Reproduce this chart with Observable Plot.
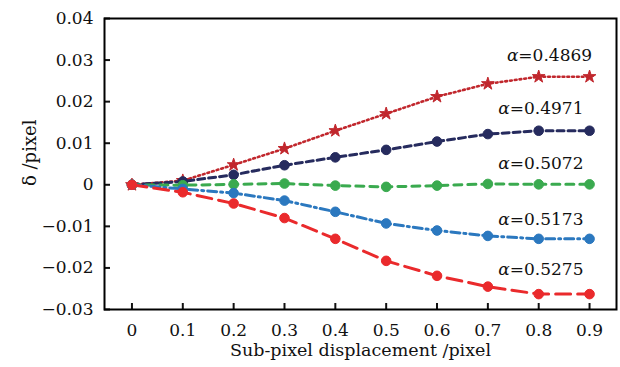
<!DOCTYPE html>
<html>
<head>
<meta charset="utf-8">
<script src="https://cdn.jsdelivr.net/npm/d3@7"></script>
<script src="https://cdn.jsdelivr.net/npm/@observablehq/plot@0.6"></script>
<style>
  html, body { margin: 0; padding: 0; background: #fff; }
  #chart { width: 620px; height: 367px; }
</style>
</head>
<body>
<div id="chart"></div>
<script>
const xs = [0, 0.1, 0.2, 0.3, 0.4, 0.5, 0.6, 0.7, 0.8, 0.9];
const s4869 = [0, 0.0010, 0.0048, 0.0087, 0.0130, 0.0171, 0.0212, 0.0243, 0.0260, 0.0260];
const s4971 = [0, 0.0008, 0.0024, 0.0047, 0.0066, 0.0084, 0.0104, 0.0122, 0.0130, 0.0130];
const s5072 = [0, -0.0001, 0.0001, 0.0003, -0.0002, -0.0005, -0.0002, 0.0002, 0.0001, 0.0001];
const s5173 = [0, -0.0010, -0.0020, -0.0038, -0.0065, -0.0093, -0.0110, -0.0123, -0.0130, -0.0130];
const s5275 = [0, -0.0018, -0.0045, -0.0080, -0.0130, -0.0183, -0.0219, -0.0245, -0.0263, -0.0263];

const seriesNames = ["α=0.4869", "α=0.4971", "α=0.5072", "α=0.5173", "α=0.5275"];
const seriesValues = [s4869, s4971, s5072, s5173, s5275];
const seriesColors = ["#c1272d", "#262b5e", "#3aaa4f", "#2b78bf", "#ea2a2c"];
const seriesDash = ["1.8,3", "7,4", "8,6", "9,4,2,4", "15,7"];
const seriesSymbol = ["star", "circle", "circle", "circle", "circle"];

const labelX = [0.905, 0.888, 0.888, 0.888, 0.888];
const labelY = [0.0310, 0.0183, 0.0050, -0.0084, -0.0204];

const xTicks = [0, 0.1, 0.2, 0.3, 0.4, 0.5, 0.6, 0.7, 0.8, 0.9];
const yTicks = [0.04, 0.03, 0.02, 0.01, 0, -0.01, -0.02, -0.03];

const rows = seriesNames.map((name, i) => xs.map((x, j) => ({name, i, x, y: seriesValues[i][j]})));
const labels = seriesNames.map((name, i) => ({name, x: labelX[i], y: labelY[i]}));

const fmtY = d => d === 0 ? "0" : (d < 0 ? "\u2212" : "") + Math.abs(d).toFixed(2);
const fmtX = d => d === 0 ? "0" : d.toFixed(1);

const marks = [];
rows.forEach((data, i) => {
  marks.push(Plot.line(data, {x: "x", y: "y", stroke: seriesColors[i], strokeWidth: i === 0 ? 2.6 : 3, strokeDasharray: seriesDash[i]}));
  marks.push(Plot.dot(data, {x: "x", y: "y", fill: seriesColors[i], stroke: seriesColors[i], strokeWidth: 1, symbol: seriesSymbol[i], r: i === 0 ? 4 : 4.8}));
});

const chart = Plot.plot({
  width: 620,
  height: 367,
  marginLeft: 104,
  marginRight: 4,
  marginTop: 18,
  marginBottom: 58,
  style: {fontFamily: "DejaVu Serif", fontSize: "17px", color: "#111", background: "#fff"},
  x: {domain: [-0.054, 0.953]},
  y: {domain: [-0.03, 0.04]},
  marks: [
    Plot.axisX(xTicks, {tickSize: 0, tickPadding: 14, tickFormat: fmtX, fontSize: 17, label: null}),
    Plot.axisX(xTicks, {tickSize: -6, strokeWidth: 2, text: null, label: null}),
    Plot.axisY(yTicks, {tickSize: 0, tickPadding: 11, tickFormat: fmtY, fontSize: 17, label: null}),
    Plot.axisY(yTicks, {tickSize: -6, strokeWidth: 2, text: null, label: null}),
    Plot.text(["Sub-pixel displacement /pixel"], {frameAnchor: "bottom", dy: 46, fontSize: 17.5, fill: "#111"}),
    Plot.text(["δ /pixel"], {frameAnchor: "left", dx: -74, dy: 22, rotate: -90, fontSize: 18, fill: "#111"}),
    ...marks,
    Plot.text(labels, {x: "x", y: "y", text: "name", textAnchor: "end", fontSize: 17, fill: "#111"}),
    Plot.frame({stroke: "#000", strokeWidth: 2})
  ]
});
document.getElementById("chart").appendChild(chart);

// italicize the alpha
d3.select(chart).selectAll("text").each(function() {
  const t = this.textContent;
  if (t.startsWith("α=")) {
    const sel = d3.select(this);
    sel.text(null);
    sel.append("tspan").attr("font-style", "italic").text("α");
    sel.append("tspan").text(t.slice(1));
  }
});
</script>
</body>
</html>
